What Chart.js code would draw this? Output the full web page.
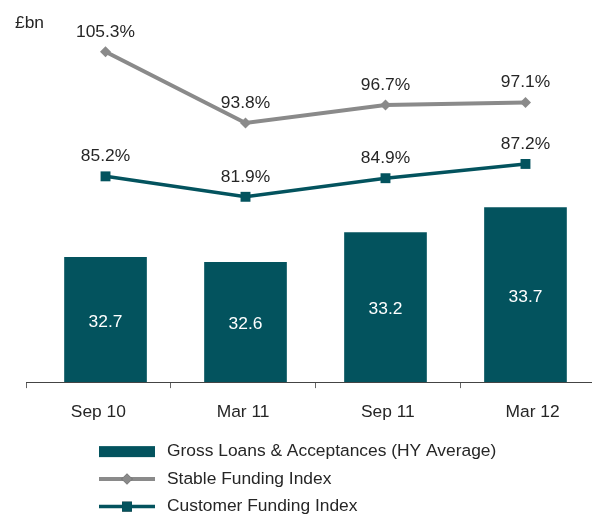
<!DOCTYPE html>
<html>
<head>
<meta charset="utf-8">
<script src="https://cdn.jsdelivr.net/npm/chart.js@4.4.1/dist/chart.umd.min.js"></script>
<style>
  html, body { margin: 0; padding: 0; background: #fff; overflow: hidden; }
  #wrap { width: 592px; height: 516px; overflow: hidden; position: relative; }
  #wrap canvas { position: absolute; left: 0; top: 0; }
</style>
</head>
<body>
<div id="wrap"><canvas id="fundingChart" width="612" height="516"></canvas></div>
<script>
const periods = ["Sep 10", "Mar 11", "Sep 11", "Mar 12"];
const grossLoans = [32.7, 32.6, 33.2, 33.7];
const stableFunding = [105.3, 93.8, 96.7, 97.1];
const customerFunding = [85.2, 81.9, 84.9, 87.2];
const seriesNames = [
  "Gross Loans & Acceptances (HY Average)",
  "Stable Funding Index",
  "Customer Funding Index"
];
const unitLabel = "£bn";

const teal = "#03535e";
const grey = "#8a8a8a";
const textColor = "#262626";
const fontFamily = '"Liberation Sans", Arial, sans-serif';
const fontSize = 17.4;

// bars and lines sit on a hidden linear axis, the labels on a category axis
const toPoints = arr => arr.map((v, i) => ({ x: i, y: v }));

// value labels, "£bn" and the stacked legend are drawn here
const annotate = {
  id: "annotate",
  afterDatasetsDraw(chart) {
    const ctx = chart.ctx;
    ctx.save();
    ctx.font = fontSize + "px " + fontFamily;
    ctx.textAlign = "center";
    ctx.textBaseline = "middle";
    chart.data.datasets.forEach((ds, i) => {
      const meta = chart.getDatasetMeta(i);
      meta.data.forEach((el, j) => {
        const v = ds.data[j].y;
        if (ds.type === "line") {
          ctx.fillStyle = textColor;
          ctx.fillText(v.toFixed(1) + "%", el.x, el.y - 20);
        } else {
          const base = chart.chartArea.bottom;
          ctx.fillStyle = "#ffffff";
          ctx.fillText(v.toFixed(1), el.x, (el.y + base) / 2 + 2);
        }
      });
    });
    ctx.restore();
  },
  afterDraw(chart) {
    const ctx = chart.ctx;
    const area = chart.chartArea;
    ctx.save();
    ctx.font = fontSize + "px " + fontFamily;
    ctx.fillStyle = textColor;
    ctx.textAlign = "left";
    ctx.textBaseline = "middle";
    ctx.fillText(unitLabel, 15, 23);

    chart.data.datasets.forEach((ds, i) => {
      const y = area.bottom + 69.5 + i * 27.5;
      const x0 = 99, x1 = 155, mid = (x0 + x1) / 2;
      if (ds.type === "line") {
        ctx.strokeStyle = ds.borderColor;
        ctx.lineWidth = ds.borderWidth;
        ctx.beginPath();
        ctx.moveTo(x0, y);
        ctx.lineTo(x1, y);
        ctx.stroke();
        Chart.helpers.drawPoint(ctx, {
          pointStyle: ds.pointStyle,
          radius: ds.pointRadius,
          borderWidth: 0,
          rotation: 0
        }, mid, y);
        ctx.fillStyle = ds.pointBackgroundColor;
        ctx.fill();
      } else {
        ctx.fillStyle = ds.backgroundColor;
        ctx.fillRect(x0, y - 5.5, x1 - x0, 11);
      }
      ctx.fillStyle = textColor;
      ctx.fillText(ds.label, 167, y);
    });
    ctx.restore();
  }
};

new Chart(document.getElementById("fundingChart"), {
  type: "bar",
  data: {
    labels: periods,
    datasets: [
      {
        type: "bar",
        label: seriesNames[0],
        data: toPoints(grossLoans),
        backgroundColor: teal,
        borderWidth: 0,
        barThickness: 82,
        xAxisID: "xd",
        yAxisID: "y",
        order: 3
      },
      {
        type: "line",
        label: seriesNames[1],
        data: toPoints(stableFunding),
        borderColor: grey,
        backgroundColor: grey,
        pointBackgroundColor: grey,
        pointBorderWidth: 0,
        borderWidth: 4,
        pointStyle: "rectRot",
        pointRadius: 5.5,
        tension: 0,
        xAxisID: "xd",
        yAxisID: "y2",
        order: 1
      },
      {
        type: "line",
        label: seriesNames[2],
        data: toPoints(customerFunding),
        borderColor: teal,
        backgroundColor: teal,
        pointBackgroundColor: teal,
        pointBorderWidth: 0,
        borderWidth: 3.5,
        pointStyle: "rect",
        pointRadius: 7,
        tension: 0,
        xAxisID: "xd",
        yAxisID: "y2",
        order: 2
      }
    ]
  },
  options: {
    responsive: false,
    animation: false,
    layout: {
      padding: { left: 26, right: 7, top: 9, bottom: 79 }
    },
    plugins: {
      legend: { display: false },
      tooltip: { enabled: false }
    },
    scales: {
      x: {
        type: "category",
        labels: periods,
        offset: true,
        grid: {
          offset: true,
          drawOnChartArea: false,
          drawTicks: true,
          tickLength: 6,
          color: "#666666"
        },
        border: { color: "#444444", width: 1 },
        ticks: {
          color: textColor,
          padding: 14,
          font: { size: fontSize, family: fontFamily }
        }
      },
      xd: {
        type: "linear",
        display: false,
        offset: false,
        grid: { offset: false },
        min: -0.568,
        max: 3.568
      },
      y: {
        type: "linear",
        display: false,
        min: 30.2,
        max: 37.68
      },
      y2: {
        type: "linear",
        display: false,
        min: 52,
        max: 112.2
      }
    }
  },
  plugins: [annotate]
});
</script>
</body>
</html>
